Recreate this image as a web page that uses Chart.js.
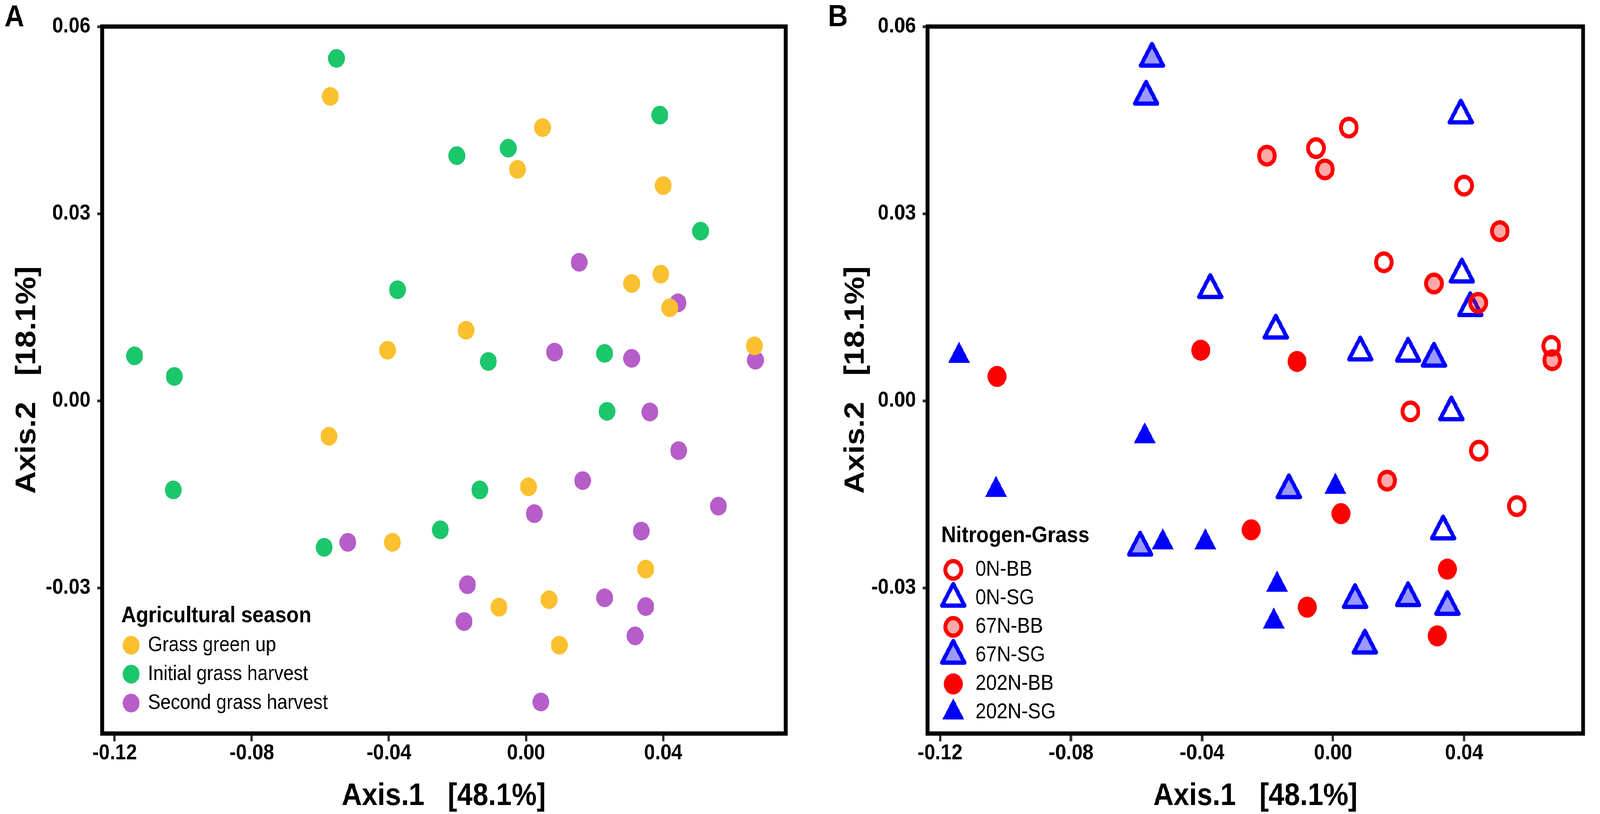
<!DOCTYPE html>
<html>
<head>
<meta charset="utf-8">
<title>PCoA - Agricultural season / Nitrogen-Grass</title>
<script src="https://cdn.jsdelivr.net/npm/chart.js"></script>
<style>
  html, body { margin: 0; padding: 0; background: #fff; overflow: hidden; }
  #stage { position: relative; overflow: hidden; width: 4562px; height: 2084px; }
  #wrap { position: absolute; left: 0; top: 0; width: 4562px; height: 2084px; transform-origin: 0 0; }
  canvas { position: absolute; top: 0; }
  #panelA { left: 0; }
  #panelB { left: 2281px; }
</style>
</head>
<body>
<div id="stage">
  <div id="wrap">
    <canvas id="panelA" width="2281" height="2084"></canvas>
    <canvas id="panelB" width="2281" height="2084"></canvas>
  </div>
</div>
<script>
// tick values used by both panels
var xTicks = [-0.12, -0.08, -0.04, 0.00, 0.04];
var yTicks = [-0.03, 0.00, 0.03, 0.06];

// panel A, samples by agricultural season: [Axis.1, Axis.2]
var seasons = ['Grass green up', 'Initial grass harvest', 'Second grass harvest'];
var greenUp = [
  [-0.0571, 0.0488], [0.0048, 0.0438], [-0.0025, 0.0371], [0.0400, 0.0345],
  [0.0308, 0.0188], [0.0393, 0.0203], [0.0419, 0.0149], [-0.0175, 0.0113],
  [-0.0404, 0.0081], [0.0666, 0.0088], [-0.0575, -0.0057], [0.0007, -0.0138],
  [-0.0390, -0.0227], [0.0349, -0.0270], [0.0067, -0.0319], [-0.0079, -0.0331],
  [0.0097, -0.0392]
];
var initialHarvest = [
  [-0.0553, 0.0549], [0.0390, 0.0458], [-0.0202, 0.0393], [-0.0052, 0.0405],
  [0.0509, 0.0272], [-0.0375, 0.0178], [-0.1142, 0.0072], [-0.1026, 0.0039],
  [-0.0110, 0.0063], [0.0229, 0.0076], [0.0236, -0.0017], [-0.1029, -0.0143],
  [-0.0135, -0.0143], [-0.0250, -0.0207], [-0.0589, -0.0235]
];
var secondHarvest = [
  [0.0155, 0.0222], [0.0443, 0.0157], [0.0083, 0.0078], [0.0308, 0.0068],
  [0.0669, 0.0065], [0.0361, -0.0018], [0.0445, -0.0080], [0.0165, -0.0128],
  [0.0561, -0.0169], [0.0024, -0.0181], [0.0336, -0.0209], [-0.0520, -0.0227],
  [-0.0171, -0.0295], [0.0229, -0.0316], [0.0349, -0.0330], [-0.0181, -0.0354],
  [0.0318, -0.0377], [0.0043, -0.0483]
];

// panel B, samples by nitrogen rate and grass
var groups = ['0N-BB', '0N-SG', '67N-BB', '67N-SG', '202N-BB', '202N-SG'];
var bb0 = [
  [0.0048, 0.0438], [-0.0052, 0.0405], [0.0400, 0.0345], [0.0155, 0.0222],
  [0.0666, 0.0088], [0.0236, -0.0017], [0.0445, -0.0080], [0.0561, -0.0169]
];
var sg0 = [
  [0.0390, 0.0458], [0.0393, 0.0203], [-0.0375, 0.0178], [0.0419, 0.0149],
  [-0.0175, 0.0113], [0.0083, 0.0078], [0.0229, 0.0076], [0.0361, -0.0018],
  [0.0336, -0.0209]
];
var bb67 = [
  [-0.0202, 0.0393], [-0.0025, 0.0371], [0.0509, 0.0272], [0.0308, 0.0188],
  [0.0443, 0.0157], [0.0669, 0.0065], [0.0165, -0.0128]
];
var sg67 = [
  [-0.0553, 0.0549], [-0.0571, 0.0488], [0.0308, 0.0068], [-0.0135, -0.0143],
  [-0.0589, -0.0235], [0.0067, -0.0319], [0.0229, -0.0316], [0.0349, -0.0330],
  [0.0097, -0.0392]
];
var bb202 = [
  [-0.0404, 0.0081], [-0.0110, 0.0063], [-0.1026, 0.0039], [0.0024, -0.0181],
  [-0.0250, -0.0207], [0.0349, -0.0270], [-0.0079, -0.0331], [0.0318, -0.0377]
];
var sg202 = [
  [-0.1142, 0.0072], [-0.0575, -0.0057], [-0.1029, -0.0143], [0.0007, -0.0138],
  [-0.0520, -0.0227], [-0.0390, -0.0227], [-0.0171, -0.0295], [-0.0181, -0.0354]
];

var FONT = "'Liberation Sans', Arial, sans-serif";

// the viewport we get is not exactly 4562x2084, so stretch the
// 4562x2084 layout to fill it edge to edge
var vw = window.innerWidth, vh = window.innerHeight;
document.getElementById('wrap').style.transform = 'scale(' + (vw / 4562) + ',' + (vh / 2084) + ')';
document.getElementById('stage').style.width = vw + 'px';
document.getElementById('stage').style.height = vh + 'px';

function toPoints(pairs) {
  return pairs.map(function (p) { return { x: p[0], y: p[1] }; });
}

function marker(label, pairs, style, radius, fill, stroke, width, order) {
  return {
    label: label,
    data: toPoints(pairs),
    showLine: false,
    clip: false,
    order: order || 0,
    pointStyle: style,
    pointRadius: radius,
    pointBackgroundColor: fill,
    pointBorderColor: stroke,
    pointBorderWidth: width,
    backgroundColor: fill,
    borderColor: stroke
  };
}

// thick black frame round the plot area
var framePlugin = {
  id: 'frame',
  beforeDatasetsDraw: function (chart) { chart.ctx.lineJoin = 'round'; },
  afterDatasetsDraw: function (chart) { chart.ctx.lineJoin = 'miter'; },
  afterDraw: function (chart) {
    var a = chart.chartArea, ctx = chart.ctx;
    ctx.save();
    ctx.lineWidth = 11;
    ctx.strokeStyle = '#000';
    ctx.strokeRect(a.left, a.top, a.right - a.left, a.bottom - a.top);
    ctx.restore();
  }
};

function drawMarker(ctx, ds, x, y) {
  var r = ds.pointRadius;
  ctx.beginPath();
  if (ds.pointStyle === 'triangle') {
    ctx.moveTo(x, y - r);
    ctx.lineTo(x + r * 0.8660254, y + r * 0.5);
    ctx.lineTo(x - r * 0.8660254, y + r * 0.5);
    ctx.closePath();
  } else {
    ctx.arc(x, y, r, 0, Math.PI * 2);
  }
  ctx.fillStyle = ds.pointBackgroundColor;
  ctx.fill();
  if (ds.pointBorderWidth > 0) {
    ctx.lineWidth = ds.pointBorderWidth;
    ctx.strokeStyle = ds.pointBorderColor;
    ctx.stroke();
  }
}

// ggplot-like legend drawn inside the panel
var insideLegend = {
  id: 'insideLegend',
  afterDraw: function (chart, args, o) {
    var ctx = chart.ctx;
    ctx.save();
    ctx.textAlign = 'left';
    ctx.textBaseline = 'middle';
    ctx.lineJoin = 'round';
    ctx.fillStyle = '#000';
    ctx.font = 'bold ' + o.titleSize + 'px ' + FONT;
    ctx.fillText(o.title, o.titleX, o.titleY);
    chart.data.datasets.forEach(function (ds, i) {
      var y = o.rowY + i * o.rowGap;
      drawMarker(ctx, ds, o.symbolX, y);
      ctx.fillStyle = '#000';
      ctx.font = o.textSize + 'px ' + FONT;
      ctx.fillText(ds.label, o.textX, y);
    });
    ctx.restore();
  }
};

var panelTag = {
  id: 'panelTag',
  afterDraw: function (chart, args, o) {
    var ctx = chart.ctx;
    ctx.save();
    ctx.fillStyle = '#000';
    ctx.textAlign = 'left';
    ctx.textBaseline = 'alphabetic';
    ctx.font = 'bold 78px ' + FONT;
    ctx.fillText(o.text, o.x, o.y);
    ctx.restore();
  }
};

function fmt(v) { return Number(v).toFixed(2); }

function buildOptions(p) {
  return {
    responsive: false,
    animation: false,
    events: [],
    devicePixelRatio: 1,
    layout: { padding: { left: 0, top: 68, right: p.padRight, bottom: 0 } },
    plugins: {
      legend: { display: false },
      tooltip: { enabled: false },
      insideLegend: p.legend,
      panelTag: p.tag
    },
    scales: {
      x: {
        type: 'linear',
        min: p.xMin,
        max: p.xMax,
        afterBuildTicks: function (s) { s.ticks = xTicks.map(function (v) { return { value: v }; }); },
        afterFit: function (s) { s.height = 206; },
        border: { display: false },
        grid: { drawOnChartArea: false, drawTicks: true, tickLength: 20, tickWidth: 7, tickColor: '#333' },
        ticks: {
          autoSkip: false, maxRotation: 0, padding: 3, color: '#000',
          font: { family: FONT, size: 56, weight: 'bold', lineHeight: 1 },
          callback: fmt
        },
        title: {
          display: true, text: 'Axis.1   [48.1%]', color: '#000',
          font: { family: FONT, size: 80, weight: 'bold', lineHeight: 1.1 },
          padding: { top: 0, bottom: 1 }
        }
      },
      y: {
        type: 'linear',
        min: -0.05336,
        max: 0.06,
        afterBuildTicks: function (s) { s.ticks = yTicks.map(function (v) { return { value: v }; }); },
        afterFit: function (s) { s.width = p.yAxisWidth; },
        border: { display: false },
        grid: { drawOnChartArea: false, drawTicks: true, tickLength: 14, tickWidth: 7, tickColor: '#333' },
        ticks: {
          autoSkip: false, padding: 19, color: '#000',
          font: { family: FONT, size: 56, weight: 'bold', lineHeight: 1 },
          callback: fmt
        },
        title: {
          display: true, text: 'Axis.2   [18.1%]', color: '#000',
          font: { family: FONT, size: 80, weight: 'bold', lineHeight: 1.1 },
          padding: { top: p.yTitlePad, bottom: 0 }
        }
      }
    }
  };
}

new Chart(document.getElementById('panelA').getContext('2d'), {
  type: 'scatter',
  data: {
    datasets: [
      marker(seasons[0], greenUp, 'circle', 24, '#FAC02E', '#FAC02E', 0),
      marker(seasons[1], initialHarvest, 'circle', 24, '#1CC66B', '#1CC66B', 0),
      marker(seasons[2], secondHarvest, 'circle', 24, '#B65DC9', '#B65DC9', 0)
    ]
  },
  options: buildOptions({
    xMin: -0.12368, xMax: 0.07570, padRight: 41, yAxisWidth: 291, yTitlePad: 34,
    tag: { text: 'A', x: 13, y: 68 },
    legend: {
      title: 'Agricultural season', titleX: 346, titleY: 1577, titleSize: 58,
      symbolX: 374, textX: 422, rowY: 1652, rowGap: 74, textSize: 53
    }
  }),
  plugins: [framePlugin, insideLegend, panelTag]
});

new Chart(document.getElementById('panelB').getContext('2d'), {
  type: 'scatter',
  data: {
    datasets: [
      marker(groups[0], bb0, 'circle', 22.5, 'rgba(255,0,0,0)', '#FF0000', 11, 6),
      marker(groups[1], sg0, 'triangle', 37, 'rgba(0,0,255,0)', '#0000FF', 11, 5),
      marker(groups[2], bb67, 'circle', 22.5, 'rgba(255,0,0,0.34)', '#FF0000', 11, 4),
      marker(groups[3], sg67, 'triangle', 37, 'rgba(0,0,255,0.4)', '#0000FF', 11, 3),
      marker(groups[4], bb202, 'circle', 27, '#FF0000', '#FF0000', 0, 2),
      marker(groups[5], sg202, 'triangle', 36, '#0000FF', '#0000FF', 0, 1)
    ]
  },
  options: buildOptions({
    xMin: -0.12378, xMax: 0.07635, padRight: 12, yAxisWidth: 364, yTitlePad: 116,
    tag: { text: 'B', x: 80, y: 67 },
    legend: {
      title: 'Nitrogen-Grass', titleX: 403, titleY: 1372, titleSize: 58,
      symbolX: 437, textX: 500, rowY: 1459, rowGap: 73, textSize: 55
    }
  }),
  plugins: [framePlugin, insideLegend, panelTag]
});
</script>
</body>
</html>
